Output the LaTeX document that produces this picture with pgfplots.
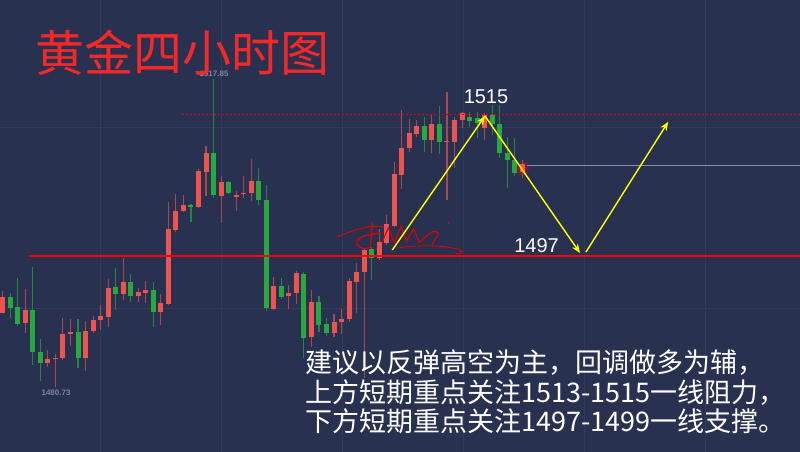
\documentclass[border=0pt]{standalone}
\usepackage{pgfplots}
\pgfplotsset{compat=1.18}
\usepackage{pgfplotstable}
\usepackage{fontspec}
\setmainfont{Liberation Sans}
\newfontfamily\cjk{Noto Sans CJK SC}
\usetikzlibrary{arrows.meta}
\definecolor{bgc}{RGB}{41,49,81}
\definecolor{gridc}{RGB}{51,59,93}
\definecolor{upc}{RGB}{239,83,80}
\definecolor{dnc}{RGB}{40,168,62}
\definecolor{ttl}{RGB}{245,40,40}
\definecolor{yel}{RGB}{255,255,0}
\definecolor{lblgray}{RGB}{125,132,156}

% red = rising candles (i open high low close)
\pgfplotstableread{
i o h l c
0 1489.81 1492.45 1489.77 1491.73
3 1488.53 1492.61 1487.41 1490.13
6 1483.73 1485.33 1483.33 1484.21
7 1484.25 1484.81 1480.93 1484.41
8 1484.41 1489.13 1484.13 1487.29
9 1487.29 1489.01 1485.81 1487.49
11 1484.33 1488.81 1482.85 1487.65
12 1487.61 1489.41 1487.33 1488.97
13 1488.89 1490.73 1487.73 1489.41
14 1489.25 1493.85 1488.13 1492.81
16 1492.09 1496.41 1491.33 1493.49
18 1491.81 1492.73 1491.13 1492.25
19 1492.13 1493.61 1491.01 1492.49
21 1489.93 1492.05 1488.33 1490.97
22 1490.85 1503.13 1490.73 1499.81
23 1499.73 1504.05 1499.45 1502.05
24 1501.97 1503.93 1501.85 1502.69
26 1502.53 1507.01 1502.33 1506.77
27 1506.69 1509.85 1503.85 1509.01
29 1503.85 1506.21 1500.61 1505.53
31 1503.69 1504.41 1502.05 1503.97
32 1504.01 1506.21 1503.53 1504.21
33 1504.13 1508.21 1503.25 1505.61
36 1490.29 1494.13 1490.13 1493.01
38 1491.85 1493.13 1490.21 1492.21
39 1492.13 1494.85 1490.85 1494.53
41 1486.85 1492.53 1485.73 1491.13
44 1487.33 1489.65 1486.93 1488.73
45 1488.73 1490.21 1487.25 1489.05
46 1489.01 1493.93 1488.73 1493.65
47 1493.45 1495.73 1489.73 1494.73
48 1494.63 1497.57 1481.97 1497.33
50 1496.33 1499.81 1496.13 1498.33
51 1498.13 1501.53 1497.93 1500.45
52 1500.25 1507.93 1500.09 1506.41
53 1506.33 1514.07 1504.65 1509.57
54 1509.53 1512.99 1509.13 1511.33
55 1511.19 1512.93 1510.93 1512.21
57 1510.53 1513.53 1508.97 1512.45
59 1510.23 1516.29 1503.33 1510.41
60 1510.33 1513.33 1507.17 1512.93
61 1512.89 1513.93 1511.97 1513.73
64 1511.93 1513.73 1510.53 1513.53
69 1506.63 1508.13 1505.93 1507.65
}\upT

% green = falling candles
\pgfplotstableread{
i o h l c
1 1491.73 1492.13 1489.13 1490.41
2 1490.45 1493.93 1488.21 1488.45
4 1490.13 1495.25 1483.53 1485.09
5 1485.13 1486.61 1481.61 1483.73
10 1487.49 1489.05 1483.21 1484.33
15 1492.89 1495.13 1490.13 1492.09
17 1493.49 1494.41 1491.13 1491.85
20 1492.49 1493.53 1488.05 1489.93
25 1502.69 1502.85 1500.73 1502.53
28 1509.01 1517.85 1503.61 1503.89
30 1505.45 1505.65 1504.05 1504.21
34 1505.61 1507.17 1502.73 1503.33
35 1503.33 1505.13 1490.01 1490.33
37 1493.01 1493.97 1491.45 1491.73
40 1494.45 1494.69 1484.33 1486.73
42 1491.13 1491.85 1487.53 1488.33
43 1488.41 1489.13 1487.05 1487.33
49 1497.45 1497.73 1493.73 1496.33
56 1512.21 1513.33 1509.13 1510.53
58 1512.39 1514.61 1508.85 1510.33
62 1513.33 1513.83 1512.13 1512.81
63 1513.17 1513.89 1510.77 1512.53
65 1513.47 1514.73 1511.13 1512.39
66 1512.45 1514.73 1508.37 1508.97
67 1508.97 1510.89 1504.77 1508.13
68 1508.13 1510.77 1506.21 1506.57
}\dnT

\begin{document}
\begin{tikzpicture}
\begin{axis}[
  width=800pt, height=452pt, scale only axis,
  xmin=-0.359, xmax=105.88, ymin=1473.09, ymax=1527.33,
  axis background/.style={fill=bgc},
  axis line style={draw=none},
  xtick=\empty, ytick=\empty,
]
% faint grid
\draw[color=gridc, line width=0.7pt] (axis cs:13.01,1473.09) -- (axis cs:13.01,1527.33);
\draw[color=gridc, line width=0.7pt] (axis cs:29.08,1473.09) -- (axis cs:29.08,1527.33);
\draw[color=gridc, line width=0.7pt] (axis cs:45.15,1473.09) -- (axis cs:45.15,1527.33);
\draw[color=gridc, line width=0.7pt] (axis cs:61.22,1473.09) -- (axis cs:61.22,1527.33);
\draw[color=gridc, line width=0.7pt] (axis cs:77.29,1473.09) -- (axis cs:77.29,1527.33);
\draw[color=gridc, line width=0.7pt] (axis cs:93.36,1473.09) -- (axis cs:93.36,1527.33);
\draw[color=gridc, line width=0.7pt] (axis cs:-0.359,1490.37) -- (axis cs:105.88,1490.37);
\draw[color=gridc, line width=0.7pt] (axis cs:-0.359,1512.09) -- (axis cs:105.88,1512.09);
% glow behind last candle
\shade[inner color=red!85!bgc, outer color=bgc] (axis cs:68.92,1507.17) circle (8pt);
% current price line
\draw[color=lblgray!90!white, line width=0.8pt] (axis cs:69.63,1507.47) -- (axis cs:105.88,1507.47);

% wicks
\addplot[draw=none, mark=none, forget plot,
  error bars/.cd, y dir=plus, y explicit, error mark=none,
  error bar style={draw=upc!65!bgc, line width=1.1pt}]
  table[x=i, y=l, y error expr=\thisrow{h}-\thisrow{l}] {\upT};
\addplot[draw=none, mark=none, forget plot,
  error bars/.cd, y dir=plus, y explicit, error mark=none,
  error bar style={draw=dnc!70!bgc, line width=1.1pt}]
  table[x=i, y=l, y error expr=\thisrow{h}-\thisrow{l}] {\dnT};
% bodies
\addplot[draw=none, mark=none, forget plot,
  error bars/.cd, y dir=plus, y explicit, error mark=none,
  error bar style={draw=upc, line width=5pt}]
  table[x=i, y=o, y error expr=\thisrow{c}-\thisrow{o}] {\upT};
\addplot[draw=none, mark=none, forget plot,
  error bars/.cd, y dir=plus, y explicit, error mark=none,
  error bar style={draw=dnc, line width=5pt}]
  table[x=i, y=c, y error expr=\thisrow{o}-\thisrow{c}] {\dnT};

% handwritten signature (watermark)
\draw[color=red!90!black, line width=1pt] (axis cs:44.4,1498.9) .. controls (axis cs:47,1499.9) and (axis cs:49,1500.4) .. (axis cs:50.6,1500.1);
\draw[color=red!90!black, line width=1.2pt] (axis cs:49.1,1500.7) -- (axis cs:48.8,1497.6) .. controls (axis cs:47.2,1497.2) and (axis cs:46.2,1498.4) .. (axis cs:47.9,1499.0) -- (axis cs:50.2,1499.4);
\draw[color=red!90!black, line width=1.1pt] (axis cs:50.4,1498.3) -- (axis cs:51.2,1500.0) -- (axis cs:52.0,1498.2) -- (axis cs:52.9,1500.2) -- (axis cs:53.6,1498.4) -- (axis cs:54.6,1499.9) -- (axis cs:55.3,1498.2) .. controls (axis cs:56.5,1499.2) and (axis cs:57.3,1500.0) .. (axis cs:57.9,1499.3) -- (axis cs:57.0,1498.0);
\draw[color=red!90!black, line width=0.9pt] (axis cs:52.6,1497.6) .. controls (axis cs:55.5,1498.0) and (axis cs:59,1497.9) .. (axis cs:60.9,1497.3) .. controls (axis cs:61.2,1497.0) and (axis cs:60.6,1496.8) .. (axis cs:60.2,1496.9);
\fill[red] (axis cs:59.2,1500.6) circle (0.9pt);

% levels
\draw[color=red, line width=2pt] (axis cs:3.53,1496.61) -- (axis cs:105.88,1496.61);
\draw[color=red!90!black, line width=1.4pt, dash pattern=on 2pt off 2pt] (axis cs:23.77,1513.61) -- (axis cs:105.88,1513.61);

% arrows
\draw[color=yel, line width=1.4pt, -{Stealth[length=9pt,width=7pt]}] (axis cs:51.74,1497.33) -- (axis cs:64.05,1513.41);
\draw[color=yel, line width=1.4pt, -{Stealth[length=9pt,width=7pt]}] (axis cs:64.05,1513.41) -- (axis cs:76.67,1496.97);
\draw[color=yel, line width=1.4pt, -{Stealth[length=9pt,width=7pt]}] (axis cs:77.46,1497.09) -- (axis cs:88.39,1512.73);

% labels
\node[text=white, font=\fontsize{20}{20}\selectfont, inner sep=0pt] at (axis cs:64.18,1515.69) {1515};
\node[text=white, font=\fontsize{20}{20}\selectfont, inner sep=0pt] at (axis cs:70.89,1497.87) {1497};
\node[text=lblgray, font=\fontsize{8}{8}\selectfont\bfseries, inner sep=0pt] at (axis cs:28.06,1518.45) {1517.85};
\node[text=lblgray, font=\fontsize{8}{8}\selectfont\bfseries, inner sep=0pt] at (axis cs:7.08,1480.17) {1480.73};

% title
\node[text=ttl, anchor=west, inner sep=0pt, font=\cjk\fontsize{49}{49}\selectfont] at (axis cs:4.29,1521.0) {黄金四小时图};

% commentary
\node[text=white, anchor=west, inner sep=0pt, font=\cjk\fontsize{27}{27}\selectfont] at (axis cs:40.15,1483.77) {建议以反弹高空为主，回调做多为辅，};
\node[text=white, anchor=west, inner sep=0pt, font=\cjk\fontsize{27}{27}\selectfont] at (axis cs:40.15,1480.23) {上方短期重点关注1513-1515一线阻力，};
\node[text=white, anchor=west, inner sep=0pt, font=\cjk\fontsize{27}{27}\selectfont] at (axis cs:40.15,1476.81) {下方短期重点关注1497-1499一线支撑。};
\end{axis}
\end{tikzpicture}
\end{document}
